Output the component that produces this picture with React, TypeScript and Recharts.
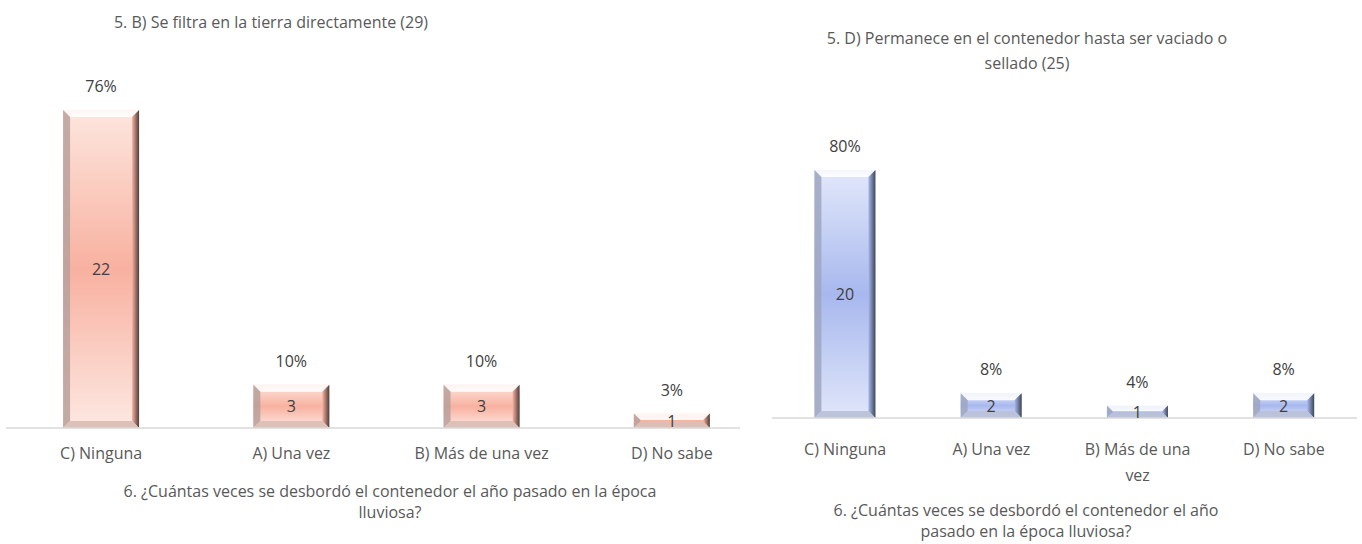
import React from "react";
import { BarChart, Bar, XAxis, YAxis, LabelList, Text } from "recharts";

const categories = ["C) Ninguna", "A) Una vez", "B) Más de una vez", "D) No sabe"];
const leftCounts = [22, 3, 3, 1];
const leftPct = ["76%", "10%", "10%", "3%"];
const rightCounts = [20, 2, 1, 2];
const rightPct = ["80%", "8%", "4%", "8%"];

const leftTitle = "5. B) Se filtra en la tierra directamente (29)";
const rightTitle = ["5. D) Permanece en el contenedor hasta ser vaciado o", "sellado (25)"];
const leftAxisTitle = ["6. ¿Cuántas veces se desbordó el contenedor el año pasado en la época", "lluviosa?"];
const rightAxisTitle = ["6. ¿Cuántas veces se desbordó el contenedor el año", "pasado en la época lluviosa?"];

const leftData = categories.map((c, i) => ({ cat: c, value: leftCounts[i], pct: leftPct[i] }));
const rightData = categories.map((c, i) => ({ cat: c, value: rightCounts[i], pct: rightPct[i] }));

const FONT = "'Open Sans', 'Noto Sans', sans-serif";
const TEXT = "#595959";
const FS = 16;

type Pal = { top: string; mid: string; bot: string; left: string; right: string; bottom: string; id: string };

const salmon: Pal = {
  top: "#fde6de",
  mid: "#f8b1a0",
  bot: "#fde8e2",
  left: "#b8a09b",
  right: "#4d3d3a",
  bottom: "#d9bcb5",
  id: "sal",
};
const blue: Pal = {
  top: "#e2e8fa",
  mid: "#a8b8ee",
  bot: "#e0e6fa",
  left: "#9ea6bf",
  right: "#3f4658",
  bottom: "#b8c0d8",
  id: "blu",
};

const makeShape = (pal: Pal) => (props: any) => {
  const { x, y, width: w, height: h, index } = props;
  if (!h || h <= 0) return <g />;
  const b = Math.min(7, h / 2.2, w / 2.2);
  const gid = `${pal.id}-g-${index}`;
  const rid = `${pal.id}-r-${index}`;
  const tid = `${pal.id}-t-${index}`;
  return (
    <g>
      <defs>
        <linearGradient id={gid} x1="0" y1="0" x2="0" y2="1">
          <stop offset="0%" stopColor={pal.top} />
          <stop offset="50%" stopColor={pal.mid} />
          <stop offset="100%" stopColor={pal.bot} />
        </linearGradient>
        <linearGradient id={rid} x1="0" y1="0" x2="1" y2="0">
          <stop offset="0%" stopColor={pal.mid} />
          <stop offset="100%" stopColor={pal.right} />
        </linearGradient>
        <linearGradient id={tid} x1="0" y1="0" x2="0" y2="1">
          <stop offset="0%" stopColor="#ffffff" stopOpacity={0.6} />
          <stop offset="100%" stopColor="#ffffff" stopOpacity={0.95} />
        </linearGradient>
      </defs>
      <rect x={x} y={y} width={w} height={h} fill={`url(#${gid})`} />
      <polygon
        points={`${x},${y} ${x + w},${y} ${x + w - b},${y + b} ${x + b},${y + b}`}
        fill={`url(#${tid})`}
      />
      <polygon
        points={`${x},${y} ${x + b},${y + b} ${x + b},${y + h - b} ${x},${y + h}`}
        fill={pal.left}
        opacity={0.85}
      />
      <polygon
        points={`${x + w},${y} ${x + w},${y + h} ${x + w - b},${y + h - b} ${x + w - b},${y + b}`}
        fill={`url(#${rid})`}
      />
      <polygon
        points={`${x},${y + h} ${x + b},${y + h - b} ${x + w - b},${y + h - b} ${x + w},${y + h}`}
        fill={pal.bottom}
        opacity={0.9}
      />
    </g>
  );
};

const pctLabel = (pcts: string[]) => (props: any) => {
  const { x, y, width, index } = props;
  return (
    <text
      x={x + width / 2}
      y={y - 24}
      textAnchor="middle"
      dominantBaseline="central"
      fontFamily={FONT}
      fontSize={FS}
      fill="#404040"
    >
      {pcts[index]}
    </text>
  );
};

const countLabel = (props: any) => {
  const { x, y, width, height, value } = props;
  return (
    <text
      x={x + width / 2}
      y={y + height / 2}
      textAnchor="middle"
      dominantBaseline="central"
      fontFamily={FONT}
      fontSize={FS}
      fill="#404040"
    >
      {value}
    </text>
  );
};

const makeTick = (dy: number, wrapWidth: number) => (props: any) => {
  const { x, y, payload } = props;
  return (
    <Text
      x={x}
      y={y + dy}
      width={wrapWidth}
      textAnchor="middle"
      verticalAnchor="start"
      lineHeight={26}
      fontFamily={FONT}
      fontSize={FS}
      style={{ fontFamily: FONT, fontSize: FS }}
      fill={TEXT}
    >
      {payload.value}
    </Text>
  );
};

const titleStyle: React.CSSProperties = {
  position: "absolute",
  fontFamily: FONT,
  fontSize: FS,
  color: TEXT,
  textAlign: "center",
  whiteSpace: "nowrap",
};

export default function App() {
  return (
    <div style={{ position: "absolute", left: 0, top: 0, width: 1362, height: 544, background: "#fff", overflow: "hidden" }}>
      <div style={{ position: "absolute", left: 0, top: 0 }}>
        <BarChart
          width={768}
          height={544}
          data={leftData}
          margin={{ top: 110, right: 28, bottom: 76, left: 6 }}
          barCategoryGap="30%"
        >
          <XAxis
            dataKey="cat"
            height={40}
            tickLine={false}
            axisLine={{ stroke: "#d9d9d9", strokeWidth: 1.5 }}
            padding={{ left: 0, right: -27 }}
            tick={makeTick(12, 300)}
            interval={0}
          />
          <YAxis hide domain={[0, 22]} />
          <Bar dataKey="value" isAnimationActive={false} shape={makeShape(salmon)}>
            <LabelList dataKey="value" content={countLabel} />
            <LabelList dataKey="pct" content={pctLabel(leftPct)} />
          </Bar>
        </BarChart>
      </div>
      <div style={{ position: "absolute", left: 768, top: 0 }}>
        <BarChart
          width={594}
          height={544}
          data={rightData}
          margin={{ top: 170, right: 5, bottom: 76, left: 4 }}
          barCategoryGap="29%"
        >
          <XAxis
            dataKey="cat"
            height={50}
            tickLine={false}
            axisLine={{ stroke: "#d9d9d9", strokeWidth: 1.5 }}
            tick={makeTick(18, 125)}
            interval={0}
          />
          <YAxis hide domain={[0, 20]} />
          <Bar dataKey="value" isAnimationActive={false} shape={makeShape(blue)}>
            <LabelList dataKey="value" content={countLabel} />
            <LabelList dataKey="pct" content={pctLabel(rightPct)} />
          </Bar>
        </BarChart>
      </div>

      <div style={{ ...titleStyle, left: 271, top: 10, lineHeight: "24px", transform: "translateX(-50%)" }}>{leftTitle}</div>
      <div style={{ ...titleStyle, left: 1027, top: 26, lineHeight: "25px", transform: "translateX(-50%)" }}>
        {rightTitle[0]}
        <br />
        {rightTitle[1]}
      </div>
      <div style={{ ...titleStyle, left: 390, top: 481, lineHeight: "21px", transform: "translateX(-50%)" }}>
        {leftAxisTitle[0]}
        <br />
        {leftAxisTitle[1]}
      </div>
      <div style={{ ...titleStyle, left: 1026, top: 500, lineHeight: "21px", transform: "translateX(-50%)" }}>
        {rightAxisTitle[0]}
        <br />
        {rightAxisTitle[1]}
      </div>
    </div>
  );
}
